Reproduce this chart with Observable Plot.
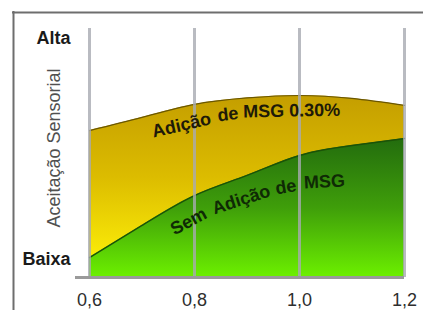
<!DOCTYPE html>
<html>
<head>
<meta charset="utf-8">
<script src="https://cdn.jsdelivr.net/npm/d3@7"></script>
<script src="https://cdn.jsdelivr.net/npm/@observablehq/plot@0.6"></script>
<style>
  html, body { margin: 0; padding: 0; background: #fff; overflow: hidden; }
  body, svg, svg text { font-family: "Liberation Sans", Arial, Helvetica, sans-serif !important; }
</style>
</head>
<body>
<div id="chart"></div>
<script>
// --- data ---
const xValues      = [0.6, 0.7, 0.8, 0.9, 1.0, 1.1, 1.2];
const msgValues    = [0.590, 0.643, 0.695, 0.721, 0.731, 0.719, 0.691]; // Adição de MSG 0.30%
const semMsgValues = [0.080, 0.209, 0.329, 0.410, 0.490, 0.530, 0.558]; // Sem Adição de MSG
const xTicks       = [0.6, 0.8, 1.0, 1.2];
const levelNames   = ["Baixa", "Alta"];
const levelValues  = [0.072, 0.96];
const yTitle       = "Aceitação Sensorial";

// curved label words (anchored on their baseline start)
const msgWords   = ["Adição", "de", "MSG 0.30%"];
const msgWordX   = [0.722, 0.845, 0.893];
const msgWordY   = [0.562, 0.627, 0.643];
const msgWordRot = [-13, -7, -1];

const semWords   = ["Sem", "Adição", "de", "MSG"];
const semWordX   = [0.762, 0.838, 0.956, 1.009];
const semWordY   = [0.169, 0.253, 0.333, 0.357];
const semWordRot = [-28, -18, -10, -3];

const msgData = xValues.map((x, i) => ({x, y: msgValues[i]}));
const semData = xValues.map((x, i) => ({x, y: semMsgValues[i]}));
const levels  = levelNames.map((name, i) => ({name, y: levelValues[i]}));
const msgLbl  = msgWords.map((t, i) => ({t, x: msgWordX[i], y: msgWordY[i], r: msgWordRot[i]}));
const semLbl  = semWords.map((t, i) => ({t, x: semWordX[i], y: semWordY[i], r: semWordRot[i]}));

const plot = Plot.plot({
  width: 423,
  height: 310,
  marginLeft: 89,
  marginRight: 19,
  marginTop: 28,
  marginBottom: 33,
  x: {domain: [0.6, 1.2], axis: null},
  y: {domain: [0, 1], axis: null},
  style: {background: "white"},
  marks: [
    // outer box (left and top edges visible)
    Plot.ruleX([0.6], {dx: -76, insetTop: -17, insetBottom: -40, stroke: "#6e6e6e", strokeWidth: 2}),
    Plot.ruleY([1], {dy: -16, insetLeft: -77, insetRight: -30, stroke: "#6e6e6e", strokeWidth: 2}),
    Plot.areaY(msgData, {x: "x", y: "y", curve: "natural", fill: "url(#gradYellow)"}),
    Plot.line(msgData, {x: "x", y: "y", curve: "natural", stroke: "#6a5600", strokeWidth: 1.2}),
    Plot.areaY(semData, {x: "x", y: "y", curve: "natural", fill: "url(#gradGreen)"}),
    Plot.line(semData, {x: "x", y: "y", curve: "natural", stroke: "#1b5208", strokeWidth: 1.4}),
    Plot.ruleX(xTicks, {y1: 0, y2: 1, stroke: "#a8aab2", strokeWidth: 3, strokeOpacity: 0.8}),
    Plot.ruleY([0], {stroke: "#9a9a9a", strokeWidth: 3, insetLeft: -14}),
    Plot.text(xTicks, {x: d => d, y: 0, dy: 23, text: d => d.toFixed(1).replace(".", ","),
      fontSize: 18, fill: "#2e2e2e", lineAnchor: "middle"}),
    Plot.text(levels, {x: 0.6, y: "y", text: "name", dx: -19, textAnchor: "end",
      fontSize: 18, fontWeight: "bold", fill: "#1a1a1a", lineAnchor: "middle"}),
    Plot.text([yTitle], {frameAnchor: "left", dx: -35, dy: -5, rotate: -90, text: d => d,
      textAnchor: "middle", fontSize: 18, fill: "#505050", lineAnchor: "middle"}),
    Plot.text(msgLbl, {x: "x", y: "y", text: "t", rotate: "r", textAnchor: "start", lineAnchor: "bottom",
      fontSize: 18, fontWeight: "bold", fill: "#1e1a08"}),
    Plot.text(semLbl, {x: "x", y: "y", text: "t", rotate: "r", textAnchor: "start", lineAnchor: "bottom",
      fontSize: 18, fontWeight: "bold", fill: "#0f2a05"})
  ]
});

// gradient definitions (styling only)
const ns = "http://www.w3.org/2000/svg";
const defs = document.createElementNS(ns, "defs");
function grad(id, stops) {
  const g = document.createElementNS(ns, "linearGradient");
  g.setAttribute("id", id);
  g.setAttribute("x1", "0"); g.setAttribute("y1", "0");
  g.setAttribute("x2", "0"); g.setAttribute("y2", "1");
  for (const [o, c] of stops) {
    const s = document.createElementNS(ns, "stop");
    s.setAttribute("offset", o);
    s.setAttribute("stop-color", c);
    g.appendChild(s);
  }
  defs.appendChild(g);
}
grad("gradYellow", [[0, "#c49e00"], [0.45, "#dcbc00"], [0.9, "#fbec08"], [1, "#fff200"]]);
grad("gradGreen",  [[0, "#236c0e"], [0.5, "#3f9e0a"], [1, "#6cf000"]]);
plot.insertBefore(defs, plot.firstChild);

document.getElementById("chart").appendChild(plot);
</script>
</body>
</html>
